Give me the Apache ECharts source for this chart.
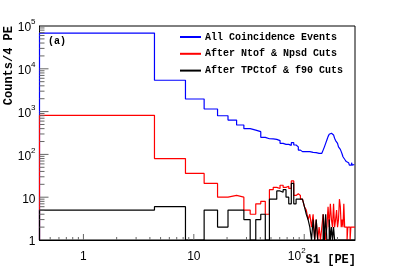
<!DOCTYPE html>
<html><head><meta charset="utf-8">
<script src="https://cdn.jsdelivr.net/npm/echarts@6/dist/echarts.min.js"></script>
<style>html,body{margin:0;padding:0;background:#fff}#c{width:395px;height:267px}</style>
</head><body><div id="c"></div>
<script>
// Histogram binning: 72 bins of 4 PE starting at 0.4 PE
const binStart = 0.4;
const binWidth = 4;
const seriesNames = ['All Coincidence Events', 'After Ntof & Npsd Cuts', 'After TPCtof & f90 Cuts'];
const blueCounts = [68500, 5400, 1970, 1150, 800, 635, 486, 400, 370, 340, 250, 232,
  230, 225, 210, 181, 172, 172, 163, 188, 166, 150, 126, 116,
  126, 116, 120, 116, 112, 112, 106, 110, 102, 106, 97, 106,
  110, 126, 150, 181, 217, 260, 295, 312, 305, 285, 270, 238,
  210, 198, 181, 150, 139, 131, 116, 102, 88, 86, 77, 71,
  68, 62, 64, 60, 56, 62, 56, 64, 56, 60, 56, 58];
const redCounts = [820, 80, 36, 21, 10, 11, 10, 5, 4, 7, 8, 4,
  15, 17, 16, 19, 17, 18, 16, 24, 11, 12, 11, 9,
  9, 6, 5, 3, 4, 2, 4, 0, 3, 0, 2, 0,
  2, 4, 2, 0, 2, 6, 2, 7, 3, 2, 7, 2,
  3, 5, 2, 3, 9, 6, 2, 3, 2, 7, 2, 2,
  2, 0, 2, 2, 2, 0, 2, 2, 2, 2, 2, 2];
const blackCounts = [5, 6, 0, 5, 2, 5, 5, 3, 0, 3, 4, 0,
  9, 9, 14, 13, 15, 10, 7, 21, 7, 9, 9, 9,
  9, 6, 4, 3, 2, 0, 3, 0, 3, 0, 0, 0,
  0, 4, 0, 4, 0, 0, 3, 0, 2, 0, 2, 0,
  0, 0, 0, 0, 0, 0, 0, 0, 0, 0, 0, 0,
  0, 0, 0, 0, 0, 0, 0, 0, 0, 0, 0, 0];
const xTickValues = [0.5, 0.6, 0.7, 0.8, 0.9, 1, 2, 3, 4, 5, 6, 7, 8, 9, 10, 20, 30, 40, 50, 60, 70, 80, 90, 100, 200];
const yTickValues = [2,3,4,5,6,7,8,9,10,20,30,40,50,60,70,80,90,100,200,300,400,500,600,700,800,900,
  1000,2000,3000,4000,5000,6000,7000,8000,9000,10000,20000,30000,40000,50000,60000,70000,80000,90000];

const Y_MIN = 1, Y_MAX = 1e5;
const X_MIN = binStart, X_MAX = binStart + blueCounts.length * binWidth;

function stepData(counts) {
  const pts = [[binStart, Y_MIN]];
  for (let i = 0; i < counts.length; i++) {
    pts.push([binStart + i * binWidth, Math.max(counts[i], Y_MIN)]);
  }
  pts.push([binStart + counts.length * binWidth, Math.max(counts[counts.length - 1], Y_MIN)]);
  return pts;
}
function isDecade(v) { const l = Math.log10(v); return Math.abs(l - Math.round(l)) < 1e-6; }
function decadeLabel(v, shifted) {
  const e = Math.round(Math.log10(v));
  if (e === 0) return '{b|1}';
  if (e === 1) return '{b|10}';
  return '{b|10}{' + (shifted ? 'sx' : 's') + '|' + e + '}';
}
const baseTok = { fontSize: 12, fontFamily: 'Liberation Sans', color: '#000', lineHeight: 16, verticalAlign: 'bottom' };
const supTok = { fontSize: 8, fontFamily: 'Liberation Sans', color: '#000', lineHeight: 9, verticalAlign: 'top' };
const rich = { b: baseTok, s: supTok, sx: Object.assign({}, supTok, { padding: [0, 15, 0, 0] }) };
const mono = 'Liberation Mono';
const colors = ['#0000ff', '#ff0000', '#000000'];
const chart = echarts.init(document.getElementById('c'), null, { renderer: 'canvas' });
const lineSeries = [blueCounts, redCounts, blackCounts].map((c, i) => ({
  name: seriesNames[i], type: 'line', step: 'end', data: stepData(c), symbol: 'none',
  color: colors[i], lineStyle: { color: colors[i], width: 1.2 }, itemStyle: { color: colors[i] },
  animation: false, z: 3 + i
}));
chart.setOption({
  animation: false,
  backgroundColor: '#fff',
  grid: { left: 39.5, right: 40, top: 26, bottom: 27, show: true, borderColor: '#000', borderWidth: 1, outerBoundsMode: 'none' },
  xAxis: {
    type: 'log', min: X_MIN, max: X_MAX, logBase: 10,
    axisLine: { show: true, lineStyle: { color: '#000', width: 1 } },
    axisTick: { show: false }, splitLine: { show: false },
    axisLabel: { margin: 7, formatter: v => isDecade(v) ? decadeLabel(v, true) : '', rich: rich, showMinLabel: false, showMaxLabel: false }
  },
  yAxis: {
    type: 'log', min: Y_MIN, max: Y_MAX, logBase: 10,
    axisLine: { show: true, lineStyle: { color: '#000', width: 1 } },
    axisTick: { show: false }, splitLine: { show: false },
    axisLabel: { margin: 4, formatter: v => isDecade(v) ? decadeLabel(v, false) : '', rich: rich }
  },
  legend: {
    orient: 'vertical', left: 180, top: 32, padding: 0, itemWidth: 21, itemHeight: 2, itemGap: 6.8, icon: 'rect',
    selectedMode: false, data: seriesNames,
    textStyle: { fontFamily: mono, fontWeight: 'bold', fontSize: 10, color: '#000', padding: [0, 0, 0, -1] }
  },
  graphic: [
    { type: 'text', left: 48, top: 36, style: { text: '(a)', font: 'bold 10px "Liberation Mono"', fill: '#000' } },
    { type: 'text', x: 9, y: 26, rotation: Math.PI / 2,
      style: { text: 'Counts/4 PE', font: 'bold 12px "Liberation Mono"', fill: '#000', align: 'right', verticalAlign: 'middle' } },
    { type: 'text', x: 356, y: 260,
      style: { text: 'S1 [PE]', font: 'bold 12px "Liberation Mono"', fill: '#000', align: 'right', verticalAlign: 'middle' } }
  ],
  series: lineSeries.concat([
    { type: 'custom', name: 'xticks', data: xTickValues.map(v => [v, Y_MIN]), z: 10, silent: true,
      renderItem: (params, api) => {
        const v = api.value(0); const p = api.coord([v, Y_MIN]); const len = isDecade(v) ? 6 : 3;
        return { type: 'line', shape: { x1: p[0], y1: p[1], x2: p[0], y2: p[1] - len }, style: { stroke: '#666', lineWidth: 1 } };
      } },
    { type: 'custom', name: 'yticks', data: yTickValues.map(v => [X_MIN, v]), z: 10, silent: true,
      renderItem: (params, api) => {
        const v = api.value(1); const p = api.coord([X_MIN, v]); const len = isDecade(v) ? 9 : 5;
        return { type: 'line', shape: { x1: p[0], y1: p[1], x2: p[0] + len, y2: p[1] }, style: { stroke: '#666', lineWidth: 1 } };
      } }
  ])
});
</script></body></html>
